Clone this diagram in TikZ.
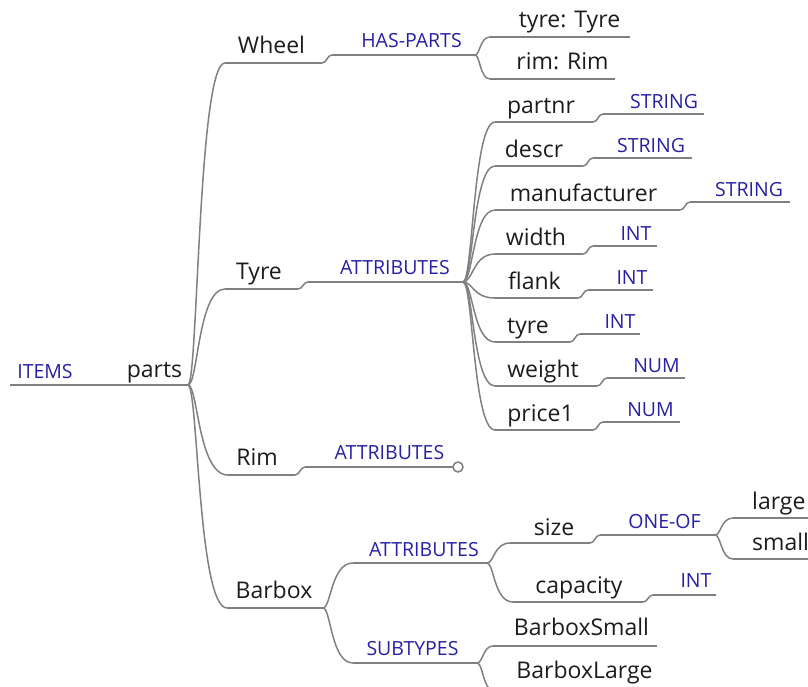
\documentclass[tikz,border=0pt]{standalone}
\usepackage{fontspec}
\setmainfont{Open Sans}
\usetikzlibrary{calc}

\definecolor{inkblack}{RGB}{28,28,32}
\definecolor{relblue}{RGB}{38,32,165}
\definecolor{stroke}{RGB}{128,128,128}

\tikzset{
  line/.style={draw=stroke, line width=1.5pt},
  link/.style={draw=stroke, line width=1.5pt},
  word/.style={text=inkblack, inner sep=0pt, anchor=base,
               font=\fontsize{23}{27}\selectfont},
  rel/.style={text=relblue, inner sep=0pt, anchor=base,
              font=\fontsize{19.5}{23}\selectfont},
  endknob/.style={circle, draw=stroke, line width=1.5pt, fill=white,
                  minimum size=10pt, inner sep=0pt},
}

% underline of one map entry: named ends <name>-l and <name>-r
\newcommand\stem[4]{%
  \coordinate (#1-l) at (#2,#4);
  \coordinate (#1-r) at (#3,#4);
  \draw[line] (#1-l) -- (#1-r);}
% curved connector from the right end of a parent to the left end of a child
\newcommand\branch[3][10]{%
  \draw[link] (#2) .. controls ($(#2)+(#1,0)$) and ($(#2 |- #3)+(#1,0)$) .. (#3);}

\begin{document}
\begin{tikzpicture}[x=1pt, y=-1pt]
\useasboundingbox (0,0) rectangle (808,686);

% root
\stem{root}{10}{188}{385}
\node[rel]  (items) at (45,378)    {ITEMS};
\node[word] (parts) at (154.5,377) {parts};

% Wheel
\stem{wheel}{225}{322}{63}
\node[word] (wheelt) at (271.5,53) {Wheel};
\stem{hasparts}{332}{475}{55}
\node[rel] (haspartst) at (411.5,47) {HAS-PARTS};
\stem{tyrepart}{490}{630}{37}
\node[word] (tyrepartt) at (569.5,27) {tyre: Tyre};
\stem{rimpart}{490}{615}{79}
\node[word] (rimpartt) at (562.5,69) {rim: Rim};

% Tyre
\stem{tyre}{225}{298}{289}
\node[word] (tyret) at (259,279) {Tyre};
\stem{tyreattr}{308}{463}{282}
\node[rel] (tyreattrt) at (395,274) {ATTRIBUTES};

\foreach \nm/\cx/\sx/\tp/\tx/\te [count=\i from 0] in {
    partnr/541/593/STRING/664/704,
    descr/534/583/STRING/651/692,
    manufacturer/583.5/680/STRING/749/790,
    width/536/583/INT/636/657,
    flank/534.5/578/INT/632/653,
    tyre/528/570/INT/620/640,
    weight/543/597/NUM/656.5/685,
    price1/540.5/593/NUM/650.5/680}{
  \pgfmathsetmacro\ly{122+44*\i}
  \pgfmathsetmacro\lb{\ly-9}
  \pgfmathsetmacro\ty{\ly-8}
  \pgfmathsetmacro\tb{\ly-14}
  \pgfmathsetmacro\ts{\sx+10}
  \stem{att\i}{495}{\sx}{\ly}
  \node[word] (att\i t) at (\cx,\lb) {\nm};
  \stem{typ\i}{\ts}{\te}{\ty}
  \node[rel] (typ\i t) at (\tx,\tb) {\tp};
  \branch{tyreattr-r}{att\i-l}
  \branch[5]{att\i-r}{typ\i-l}
}

% Rim
\stem{rim}{228}{295}{475}
\node[word] (rimt) at (257,465) {Rim};
\stem{rimattr}{305}{453}{467}
\node[rel] (rimattrt) at (389.5,459) {ATTRIBUTES};
\node[endknob] (rimknob) at (458,467) {};

% Barbox
\stem{barbox}{227}{323}{608}
\node[word] (barboxt) at (274,598) {Barbox};
\stem{bbattr}{353}{487}{563}
\node[rel] (bbattrt) at (424,556) {ATTRIBUTES};
\stem{size}{510}{590}{543}
\node[word] (sizet) at (554,535) {size};
\stem{oneof}{600}{715}{535}
\node[rel] (oneoft) at (664.5,528) {ONE-OF};
\stem{large}{733}{830}{518}
\node[word, anchor=base west] (larget) at (752,509) {large};
\stem{small}{733}{830}{559}
\node[word, anchor=base west] (smallt) at (752,550) {small};
\stem{capacity}{513}{643}{602}
\node[word] (capacityt) at (579,593) {capacity};
\stem{capint}{653}{716}{595}
\node[rel] (capintt) at (696,587) {INT};
\stem{subtypes}{353}{477}{663}
\node[rel] (subtypest) at (412.5,655) {SUBTYPES};
\stem{bbsmall}{493}{657}{646}
\node[word] (bbsmallt) at (581.5,635) {BarboxSmall};
\stem{bblarge}{493}{657}{690}
\node[word] (bblarget) at (584.5,678) {BarboxLarge};

% connectors
\branch{root-r}{wheel-l}
\branch{root-r}{tyre-l}
\branch{root-r}{rim-l}
\branch{root-r}{barbox-l}
\branch[5]{wheel-r}{hasparts-l}
\branch[5]{hasparts-r}{tyrepart-l}
\branch[5]{hasparts-r}{rimpart-l}
\branch[5]{tyre-r}{tyreattr-l}
\branch[5]{rim-r}{rimattr-l}
\branch[8]{barbox-r}{bbattr-l}
\branch[8]{barbox-r}{subtypes-l}
\branch[7]{bbattr-r}{size-l}
\branch[7]{bbattr-r}{capacity-l}
\branch[5]{size-r}{oneof-l}
\branch[6]{oneof-r}{large-l}
\branch[6]{oneof-r}{small-l}
\branch[5]{capacity-r}{capint-l}
\branch[6]{subtypes-r}{bbsmall-l}
\branch[6]{subtypes-r}{bblarge-l}
\end{tikzpicture}
\end{document}
